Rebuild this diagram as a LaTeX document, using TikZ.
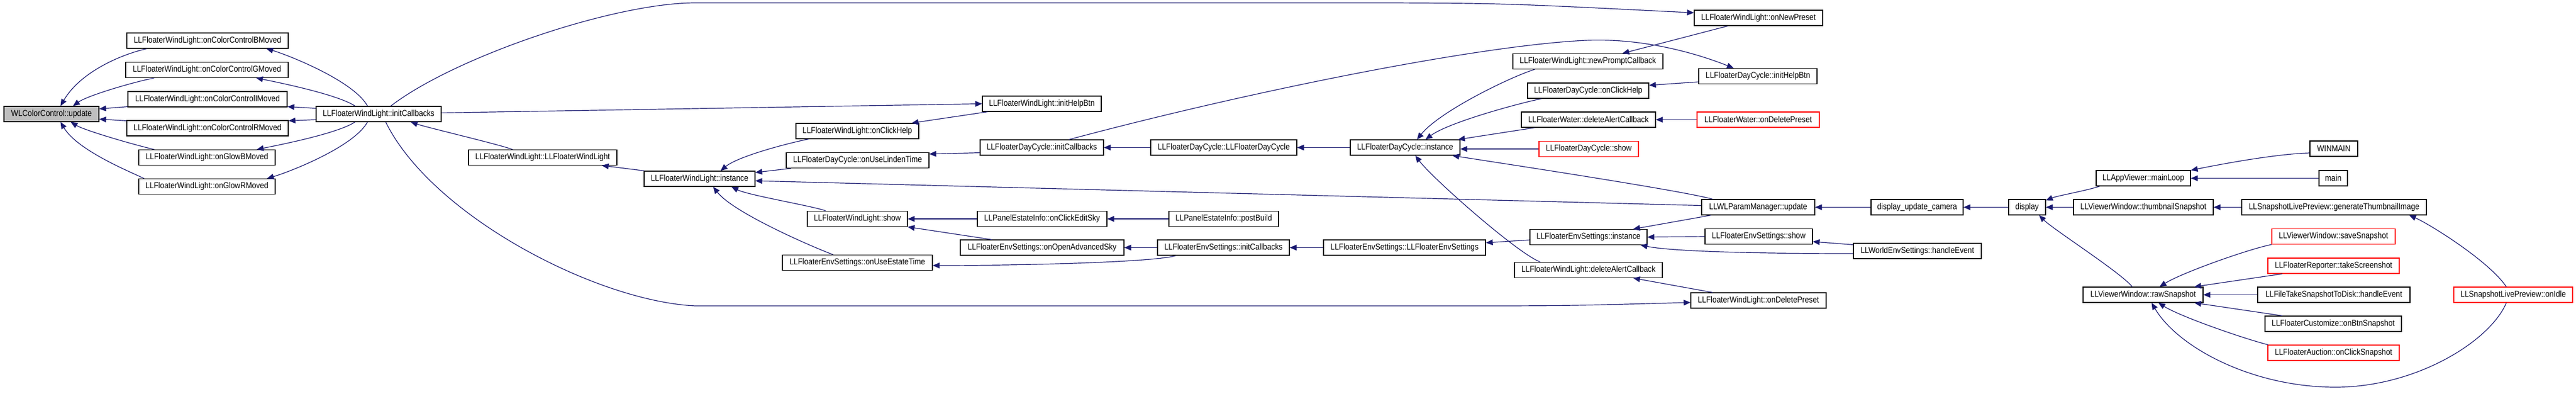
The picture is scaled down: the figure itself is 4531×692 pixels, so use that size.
\documentclass[tikz,border=0pt]{standalone}
\usepackage{fontspec}
\newfontfamily\dxfont[FakeStretch=0.87]{Liberation Sans}
\usetikzlibrary{arrows.meta,calc}
\definecolor{edgec}{RGB}{25,25,112}
\definecolor{boxgray}{RGB}{191,191,191}
\begin{document}
\begin{tikzpicture}[x=0.5pt,y=-0.5pt,
 bx/.style={draw=black,line width=0.6pt,minimum height=13.5pt,inner sep=0pt,fill=white,font=\dxfont\fontsize{7.6}{9}\selectfont},
 rbx/.style={bx,draw=red},
 gbx/.style={bx,fill=boxgray},
 ed/.style={draw=edgec,line width=0.6pt,-{Triangle[length=6pt,width=5pt]}}]
\useasboundingbox[fill=white] (0,0) rectangle (4531,692);
% nodes
\node[gbx,minimum width=83.5pt] (wl) at (90.5,200.5) {WLColorControl::update};
\node[bx,minimum width=142pt] (cb) at (365,71.5) {LLFloaterWindLight::onColorControlBMoved};
\node[bx,minimum width=143pt] (cg) at (364,123) {LLFloaterWindLight::onColorControlGMoved};
\node[bx,minimum width=140pt] (ci) at (365,174.5) {LLFloaterWindLight::onColorControlIMoved};
\node[bx,minimum width=142pt] (cr) at (365,225.5) {LLFloaterWindLight::onColorControlRMoved};
\node[bx,minimum width=120pt] (gb) at (364,277) {LLFloaterWindLight::onGlowBMoved};
\node[bx,minimum width=120pt] (gr) at (364,328) {LLFloaterWindLight::onGlowRMoved};
\node[bx,minimum width=110pt] (ic) at (666,200.5) {LLFloaterWindLight::initCallbacks};
\node[bx,minimum width=130.5pt] (ctor) at (954.5,277) {LLFloaterWindLight::LLFloaterWindLight};
\node[bx,minimum width=97.5pt] (inst) at (1230.5,314.5) {LLFloaterWindLight::instance};
\node[bx,minimum width=104.5pt] (ihb) at (1832.5,182.5) {LLFloaterWindLight::initHelpBtn};
\node[bx,minimum width=108pt] (och) at (1508,230.5) {LLFloaterWindLight::onClickHelp};
\node[bx,minimum width=125.5pt] (ult) at (1508.5,282) {LLFloaterDayCycle::onUseLindenTime};
\node[bx,minimum width=108.5pt] (dcic) at (1832.5,259.5) {LLFloaterDayCycle::initCallbacks};
\node[bx,minimum width=128.5pt] (dcctor) at (2152.5,259.5) {LLFloaterDayCycle::LLFloaterDayCycle};
\node[bx,minimum width=88pt] (show) at (1508,385) {LLFloaterWindLight::show};
\node[bx,minimum width=114pt] (oces) at (1833,385) {LLPanelEstateInfo::onClickEditSky};
\node[bx,minimum width=96.5pt] (pb) at (2152.5,385) {LLPanelEstateInfo::postBuild};
\node[bx,minimum width=144pt] (oas) at (1833,435.5) {LLFloaterEnvSettings::onOpenAdvancedSky};
\node[bx,minimum width=116pt] (esic) at (2152,435.5) {LLFloaterEnvSettings::initCallbacks};
\node[bx,minimum width=132pt] (uet) at (1508,462) {LLFloaterEnvSettings::onUseEstateTime};
\node[bx,minimum width=96.5pt] (dci) at (2471.5,259.5) {LLFloaterDayCycle::instance};
\node[bx,minimum width=142.5pt] (esctor) at (2470.5,435.5) {LLFloaterEnvSettings::LLFloaterEnvSettings};
\node[bx,minimum width=132pt] (npc) at (2793,108) {LLFloaterWindLight::newPromptCallback};
\node[bx,minimum width=106.5pt] (dcoch) at (2793.5,159.5) {LLFloaterDayCycle::onClickHelp};
\node[bx,minimum width=118pt] (wdac) at (2794,210.5) {LLFloaterWater::deleteAlertCallback};
\node[rbx,minimum width=87.5pt] (dcshow) at (2794.5,262) {LLFloaterDayCycle::show};
\node[bx,minimum width=103pt] (esi) at (2794,417) {LLFloaterEnvSettings::instance};
\node[bx,minimum width=130pt] (fdac) at (2794,475) {LLFloaterWindLight::deleteAlertCallback};
\node[bx,minimum width=113pt] (onp) at (3093,31.5) {LLFloaterWindLight::onNewPreset};
\node[bx,minimum width=104pt] (dcihb) at (3092,134) {LLFloaterDayCycle::initHelpBtn};
\node[rbx,minimum width=107.5pt] (wodp) at (3092.5,210.5) {LLFloaterWater::onDeletePreset};
\node[bx,minimum width=99.5pt] (wlpm) at (3092.5,364.5) {LLWLParamManager::update};
\node[bx,minimum width=94.5pt] (ess) at (3093.5,416) {LLFloaterEnvSettings::show};
\node[bx,minimum width=112.5pt] (weh) at (3372.5,441.5) {LLWorldEnvSettings::handleEvent};
\node[bx,minimum width=119pt] (fodp) at (3093,528.5) {LLFloaterWindLight::onDeletePreset};
\node[bx,minimum width=81pt] (duc) at (3372,364.5) {display\_update\_camera};
\node[bx,minimum width=32.5pt] (disp) at (3565.5,364.5) {display};
\node[bx,minimum width=83pt] (ml) at (3770,313.5) {LLAppViewer::mainLoop};
\node[bx,minimum width=123pt] (ts) at (3770,364.5) {LLViewerWindow::thumbnailSnapshot};
\node[bx,minimum width=105.5pt] (rs) at (3769.5,518.5) {LLViewerWindow::rawSnapshot};
\node[bx,minimum width=42pt] (winmain) at (4105,261.5) {WINMAIN};
\node[bx,minimum width=25pt] (main) at (4104,313.5) {main};
\node[bx,minimum width=162.5pt] (gti) at (4105.5,364.5) {LLSnapshotLivePreview::generateThumbnailImage};
\node[rbx,minimum width=108.5pt] (ss) at (4104.5,416) {LLViewerWindow::saveSnapshot};
\node[rbx,minimum width=115.5pt] (tsc) at (4104.5,467.5) {LLFloaterReporter::takeScreenshot};
\node[bx,minimum width=134pt] (fts) at (4105,518.5) {LLFileTakeSnapshotToDisk::handleEvent};
\node[bx,minimum width=120pt] (obs) at (4104,569.5) {LLFloaterCustomize::onBtnSnapshot};
\node[rbx,minimum width=115.5pt] (ocs) at (4104.5,620.5) {LLFloaterAuction::onClickSnapshot};
\node[rbx,minimum width=104.5pt] (oi) at (4420.5,518.5) {LLSnapshotLivePreview::onIdle};
% edges
\draw[ed] ($(cb.south west)+(36,0)$) .. controls +(-45,10) and +(35,-60) .. ($(wl.north west)+(100,0)$);
\draw[ed] ($(cg.south west)+(51,0)$) .. controls +(-40,8) and +(25,-18) .. ($(wl.north west)+(122,0)$);
\draw[ed] ($(ci.south west)+(0,-1)$) -- ($(wl.east)+(0,-9)$);
\draw[ed] ($(cr.north west)+(0,1)$) -- ($(wl.east)+(0,9)$);
\draw[ed] ($(gb.north west)+(28,0)$) .. controls +(-35,-8) and +(25,15) .. ($(wl.south west)+(118,0)$);
\draw[ed] ($(gr.north west)+(10,0)$) .. controls +(-25,-12) and +(30,50) .. ($(wl.south west)+(100,0)$);
\draw[ed] ($(ic.north west)+(91,0)$) .. controls +(-25,-45) and +(35,10) .. ($(cb.south west)+(246,0)$);
\draw[ed] ($(ic.north west)+(69,0)$) .. controls +(-30,-20) and +(40,8) .. ($(cg.south west)+(230,0)$);
\draw[ed] ($(ic.west)+(0,-10)$) -- ($(ci.south east)+(0,-1)$);
\draw[ed] ($(ic.west)+(0,10)$) -- ($(cr.north east)+(0,1)$);
\draw[ed] ($(ic.south west)+(69,0)$) .. controls +(-30,20) and +(40,-8) .. ($(gb.north east)+(-33,0)$);
\draw[ed] ($(ic.south west)+(91,0)$) .. controls +(-25,45) and +(35,-10) .. ($(gr.north east)+(-15,0)$);
\draw[ed] ($(ic.north west)+(132,0)$) .. controls (800,100) and (1080,5) .. (1223,5) -- (2450,5) .. controls (2650,6) .. ($(onp.west)+(0,-9)$);
\draw[ed] ($(ic.east)+(0,-2)$) -- (ihb.west);
\draw[ed] ($(ic.south west)+(123,0)$) .. controls (760,380) and (1050,530) .. (1223,538) -- (2550,538) .. controls (2750,538) .. ($(fodp.west)+(0,3.5)$);
\draw[ed] ($(ctor.north west)+(78,0)$) .. controls +(-20,-8) and +(30,10) .. ($(ic.south west)+(167,0)$);
\draw[ed] ($(inst.north west)+(1,0)$) -- ($(ctor.south east)+(-27,0)$);
\draw[ed] ($(och.south west)+(23,0)$) .. controls +(-40,8) and +(30,-25) .. ($(inst.north west)+(135,0)$);
\draw[ed] ($(ult.south west)+(9,0)$) -- ($(inst.north east)+(0,3)$);
\draw[ed] ($(wlpm.west)+(0,-3)$) -- ($(inst.east)+(0,3.5)$);
\draw[ed] ($(show.north west)+(33,0)$) .. controls +(-20,-8) and +(30,15) .. ($(inst.south east)+(-42,0)$);
\draw[ed] ($(uet.north west)+(90,0)$) .. controls +(-40,-15) and +(35,45) .. ($(inst.south west)+(122,0)$);
\draw[ed] ($(ihb.south west)+(10,0)$) -- ($(och.north east)+(-13,0)$);
\draw[ed] ($(dcic.south west)+(0,-5)$) -- ($(ult.north east)+(0,3)$);
\draw[ed] ($(dcic.north west)+(157,0)$) .. controls (2200,160) and (2600,80) .. (2789,71) .. controls (2900,66) and (3000,100) .. ($(dcihb.north west)+(62,0)$);
\draw[ed] (dcctor.west) -- (dcic.east);
\draw[ed] (dci.west) -- (dcctor.east);
\draw[ed] (oces.west) -- (show.east);
\draw[ed] ($(oas.north west)+(56,0)$) -- (show.south east);
\draw[ed] (pb.west) -- (oces.east);
\draw[ed] (esic.west) -- (oas.east);
\draw[ed] ($(esic.south west)+(33,0)$) .. controls +(-40,12) and +(150,0) .. ($(uet.east)+(0,5)$);
\draw[ed] (esctor.west) -- (esic.east);
\draw[ed] ($(esi.west)+(0,5)$) -- ($(esctor.east)+(0,-8.5)$);
\draw[ed] ($(npc.south west)+(39,0)$) .. controls +(-40,12) and +(40,-50) .. ($(dci.north west)+(118,0)$);
\draw[ed] ($(dcoch.south west)+(25,0)$) .. controls +(-40,8) and +(40,-30) .. ($(dci.north west)+(133,0)$);
\draw[ed] ($(wdac.south west)+(24,0)$) -- ($(dci.north east)+(-4,0)$);
\draw[ed] (dcshow.west) -- ($(dci.east)+(0,2.5)$);
\draw[ed] ($(wlpm.north west)+(20,0)$) .. controls +(-50,-15) and +(50,8) .. ($(dci.south east)+(-14,0)$);
\draw[ed] ($(fdac.north west)+(46,0)$) .. controls +(-40,-15) and +(30,40) .. ($(dci.south west)+(115,0)$);
\draw[ed] ($(onp.south west)+(60,0)$) -- ($(npc.north east)+(-72,0)$);
\draw[ed] ($(dcihb.west)+(0,10)$) -- ($(dcoch.east)+(0,-9.5)$);
\draw[ed] (wodp.west) -- (wdac.east);
\draw[ed] (ess.west) -- (esi.east);
\draw[ed] ($(wlpm.south west)+(17,0)$) -- ($(esi.north east)+(-25,0)$);
\draw[ed] ($(weh.west)+(0,4.5)$) .. controls +(-150,0) and +(60,12) .. ($(esi.south east)+(-12,0)$);
\draw[ed] ($(weh.north west)+(0,3)$) -- ($(ess.east)+(0,9)$);
\draw[ed] ($(fodp.north west)+(39,0)$) -- ($(fdac.south east)+(-52,0)$);
\draw[ed] (duc.west) -- (wlpm.east);
\draw[ed] (disp.west) -- (duc.east);
\draw[ed] ($(ml.south west)+(7,0)$) .. controls +(-25,8) and +(20,-8) .. ($(disp.north east)+(0,2)$);
\draw[ed] (ts.west) -- (disp.east);
\draw[ed] ($(rs.north west)+(87,0)$) .. controls +(-20,-25) and +(25,25) .. ($(disp.south east)+(-12,0)$);
\draw[ed] ($(winmain.west)+(0,7.5)$) .. controls +(-60,2) and +(60,-12) .. (ml.north east);
\draw[ed] (main.west) -- (ml.east);
\draw[ed] (gti.west) -- (ts.east);
\draw[ed] ($(oi.north west)+(93,0)$) .. controls +(-30,-45) and +(35,15) .. ($(gti.south east)+(-31,0)$);
\draw[ed] (ss.south west) .. controls +(-40,8) and +(40,-25) .. ($(rs.north west)+(135,0)$);
\draw[ed] ($(tsc.south west)+(26,0)$) -- ($(rs.north east)+(-16,0)$);
\draw[ed] (fts.west) -- (rs.east);
\draw[ed] ($(obs.north west)+(31,0)$) -- ($(rs.south east)+(-16,0)$);
\draw[ed] ($(ocs.north west)+(1,0)$) .. controls +(-40,-10) and +(40,25) .. ($(rs.south west)+(133,0)$);
\draw[ed] ($(oi.south west)+(93,0)$) .. controls (4380,600) and (4250,681) .. (4108,681) .. controls (3960,681) and (3830,610) .. ($(rs.south west)+(121,0)$);
\end{tikzpicture}
\end{document}
